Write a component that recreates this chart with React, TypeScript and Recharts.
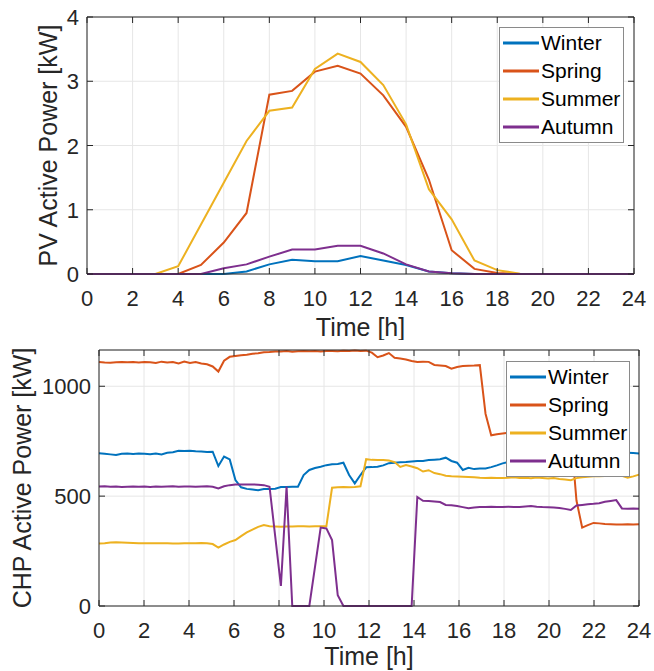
import React from 'react';
import { LineChart, Line, XAxis, YAxis, CartesianGrid, Legend, ReferenceLine } from 'recharts';

// PV profiles, hourly
const hours = [0, 1, 2, 3, 4, 5, 6, 7, 8, 9, 10, 11, 12, 13, 14, 15, 16, 17, 18, 19, 20, 21, 22, 23, 24];
const pvWinter = [0, 0, 0, 0, 0, 0, 0, 0.04, 0.15, 0.22, 0.2, 0.2, 0.28, 0.21, 0.14, 0.04, 0.01, 0, 0, 0, 0, 0, 0, 0, 0];
const pvSpring = [0, 0, 0, 0, 0, 0.14, 0.49, 0.95, 2.79, 2.85, 3.15, 3.24, 3.12, 2.78, 2.29, 1.47, 0.37, 0.08, 0.015, 0, 0, 0, 0, 0, 0];
const pvSummer = [0, 0, 0, 0, 0.12, 0.77, 1.42, 2.07, 2.54, 2.59, 3.19, 3.43, 3.3, 2.94, 2.33, 1.32, 0.85, 0.21, 0.06, 0.005, 0, 0, 0, 0, 0];
const pvAutumn = [0, 0, 0, 0, 0, 0, 0.09, 0.15, 0.27, 0.38, 0.38, 0.44, 0.44, 0.32, 0.15, 0.04, 0.01, 0, 0, 0, 0, 0, 0, 0, 0];

// CHP profiles, 96 samples spread over 0..24 h
const chpWinter = [
  695, 693, 690, 687, 693, 694, 692, 694, 693, 691,
  694, 690, 697, 700, 706, 705, 707, 704, 703, 701,
  702, 637, 680, 667, 573, 540, 533, 530, 527, 532,
  533, 534, 541, 542, 543, 543, 596, 619, 628, 634,
  641, 645, 646, 652, 596, 558, 596, 631, 632, 634,
  640, 650, 652, 654, 655, 658, 660, 660, 664, 666,
  668, 675, 660, 652, 619, 629, 623, 626, 626, 632,
  640, 649, 655, 660, 662, 665, 668, 670, 672, 675,
  677, 680, 682, 684, 686, 688, 690, 692, 693, 694,
  695, 696, 697, 697, 696, 694,
];
const chpSpring = [
  1110, 1108, 1107, 1109, 1110, 1109, 1110, 1108, 1110, 1109,
  1106, 1112, 1108, 1110, 1104, 1112, 1106, 1110, 1104, 1100,
  1090, 1067, 1116, 1134, 1138, 1141, 1143, 1148, 1150, 1155,
  1156, 1158, 1158, 1160, 1157, 1159, 1161, 1159, 1160, 1158,
  1160, 1161, 1159, 1162, 1160, 1163, 1161, 1162, 1153, 1132,
  1140, 1151, 1130, 1126, 1122, 1115, 1110, 1112, 1111, 1097,
  1095, 1092, 1080, 1088, 1092, 1093, 1094, 1096, 875, 777,
  782, 785, 788, 790, 792, 790, 793, 791, 792, 790,
  791, 793, 792, 790, 480, 357, 368, 378, 376, 373,
  372, 371, 371, 372, 371, 372,
];
const chpSummer = [
  284, 286, 289, 290, 289, 288, 287, 286, 286, 285,
  286, 285, 285, 284, 284, 285, 285, 286, 287, 286,
  282, 266, 280, 292, 300, 318, 335, 348, 360, 368,
  363, 362, 361, 362, 362, 363, 363, 362, 363, 363,
  363, 538, 540, 541, 540, 542, 545, 668, 665, 664,
  664, 662, 655, 633, 641, 635, 627, 612, 618, 605,
  600, 593, 590, 589, 588, 587, 586, 584, 583, 584,
  582, 583, 584, 586, 582, 584, 581, 585, 583, 580,
  582, 578, 576, 572, 582, 586, 588, 591, 590, 592,
  593, 596, 592, 584, 590, 598,
];
const chpAutumn = [
  544, 545, 543, 544, 542, 543, 544, 543, 544, 542,
  544, 543, 544, 545, 543, 544, 544, 543, 544, 545,
  543, 535, 545, 550, 553, 553, 553, 553, 552, 550,
  543, 317, 91, 543, 0, 0, 0, 0, 178, 357,
  353, 300, 49, 0, 0, 0, 0, 0, 0, 0,
  0, 0, 0, 0, 0, 0, 496, 479, 478, 476,
  473, 460, 458, 455, 450, 445, 448, 450, 451, 452,
  450, 451, 452, 450, 451, 453, 455, 452, 450, 449,
  448, 446, 442, 437, 457, 460, 463, 465, 468, 474,
  478, 482, 444, 443, 444, 443,
];

const seasons = ['Winter', 'Spring', 'Summer', 'Autumn'];
const colors = ['#0072BD', '#D95319', '#EDB120', '#7E2F8E'];
const timeTicks = [0, 2, 4, 6, 8, 10, 12, 14, 16, 18, 20, 22, 24];
const pvTicks = [0, 1, 2, 3, 4];
const chpTicks = [0, 500, 1000];
const CHP_MAX = 1165;

const pvData = hours.map((h, i) => ({
  t: h,
  Winter: pvWinter[i],
  Spring: pvSpring[i],
  Summer: pvSummer[i],
  Autumn: pvAutumn[i],
}));

const chpData = chpWinter.map((_, i) => ({
  t: (i * 24) / (chpWinter.length - 1),
  Winter: chpWinter[i],
  Spring: chpSpring[i],
  Summer: chpSummer[i],
  Autumn: chpAutumn[i],
}));

const AX = '#262626';
const FONT = '"Liberation Sans", Arial, Helvetica, sans-serif';

// matlab style ticks: pointing inward, on both sides of the box
const XTick = (props: any) => {
  const { x, y, payload, plotTop } = props;
  return (
    <g>
      <line x1={x} x2={x} y1={y} y2={y - 6} stroke={AX} />
      <line x1={x} x2={x} y1={plotTop} y2={plotTop + 6} stroke={AX} />
      <text x={x} y={y + 32} textAnchor="middle" fill={AX} fontSize={22} fontFamily={FONT}>
        {payload.value}
      </text>
    </g>
  );
};

const YTick = (props: any) => {
  const { x, y, payload, plotRight } = props;
  return (
    <g>
      <line x1={x} x2={x + 6} y1={y} y2={y} stroke={AX} />
      <line x1={plotRight} x2={plotRight - 6} y1={y} y2={y} stroke={AX} />
      <text x={x - 8} y={y + 8} textAnchor="end" fill={AX} fontSize={22} fontFamily={FONT}>
        {payload.value}
      </text>
    </g>
  );
};

const XTitle = (props: any) => (
  <text x={props.cx} y={props.baseY} textAnchor="middle" fill={AX} fontSize={25} fontFamily={FONT}>
    {props.caption}
  </text>
);

const YTitle = (props: any) => (
  <text
    x={props.baseX}
    y={props.cy}
    transform={`rotate(-90 ${props.baseX} ${props.cy})`}
    textAnchor="middle"
    fill={AX}
    fontSize={25}
    fontFamily={FONT}
  >
    {props.caption}
  </text>
);

const LegendBox = (props: any) => {
  // keep the plotting order, not alphabetical
  const items = [...(props.payload || [])].sort(
    (a: any, b: any) => seasons.indexOf(a.value) - seasons.indexOf(b.value)
  );
  return (
    <div style={{ border: '1px solid #8a8a8a', background: '#fff', padding: '1px 0 1px 3px', fontFamily: FONT }}>
      {items.map((p: any) => (
        <div key={p.value} style={{ display: 'flex', alignItems: 'center', height: 28 }}>
          <svg width={36} height={4} style={{ display: 'block' }}>
            <line x1={0} x2={36} y1={2} y2={2} stroke={p.color} strokeWidth={3} />
          </svg>
          <span style={{ marginLeft: 2, fontSize: 21, color: '#000', lineHeight: '28px' }}>{p.value}</span>
        </div>
      ))}
    </div>
  );
};

const App = () => {
  return (
    <div style={{ position: 'absolute', left: 0, top: 0, width: 654, height: 671, background: '#fff' }}>
      <div style={{ position: 'absolute', left: 0, top: 0 }}>
        <LineChart width={654} height={340} data={pvData} margin={{ top: 17, right: 20, left: 27, bottom: 16 }}>
          <CartesianGrid stroke="#e6e6e6" />
          <XAxis
            dataKey="t"
            type="number"
            domain={[0, 24]}
            ticks={timeTicks}
            interval={0}
            height={50}
            tickSize={0}
            tickMargin={0}
            tickLine={false}
            axisLine={{ stroke: AX }}
            tick={<XTick plotTop={17} />}
            label={<XTitle caption="Time [h]" cx={360.5} baseY={336} />}
          />
          <YAxis
            type="number"
            domain={[0, 4]}
            ticks={pvTicks}
            interval={0}
            width={60}
            tickSize={0}
            tickMargin={0}
            tickLine={false}
            axisLine={{ stroke: AX }}
            tick={<YTick plotRight={634} />}
            label={<YTitle caption="PV Active Power [kW]" baseX={57} cy={145.5} />}
          />
          {seasons.map((s, i) => (
            <Line
              key={s}
              type="linear"
              dataKey={s}
              name={s}
              stroke={colors[i]}
              strokeWidth={2}
              dot={false}
              isAnimationActive={false}
            />
          ))}
          <ReferenceLine y={4} stroke={AX} />
          <ReferenceLine x={24} stroke={AX} />
          <Legend
            layout="vertical"
            align="center"
            verticalAlign="middle"
            content={<LegendBox />}
            wrapperStyle={{ left: 499, top: 27, width: 125 }}
          />
        </LineChart>
      </div>
      <div style={{ position: 'absolute', left: 0, top: 335 }}>
        <LineChart width={654} height={336} data={chpData} margin={{ top: 15, right: 15, left: 39, bottom: 15 }}>
          <CartesianGrid stroke="#e6e6e6" />
          <XAxis
            dataKey="t"
            type="number"
            domain={[0, 24]}
            ticks={timeTicks}
            interval={0}
            height={50}
            tickSize={0}
            tickMargin={0}
            tickLine={false}
            axisLine={{ stroke: AX }}
            tick={<XTick plotTop={15} />}
            label={<XTitle caption="Time [h]" cx={369} baseY={330} />}
          />
          <YAxis
            type="number"
            domain={[0, CHP_MAX]}
            ticks={chpTicks}
            interval={0}
            width={60}
            tickSize={0}
            tickMargin={0}
            tickLine={false}
            axisLine={{ stroke: AX }}
            tick={<YTick plotRight={639} />}
            label={<YTitle caption="CHP Active Power [kW]" baseX={31} cy={143} />}
          />
          {seasons.map((s, i) => (
            <Line
              key={s}
              type="linear"
              dataKey={s}
              name={s}
              stroke={colors[i]}
              strokeWidth={2}
              dot={false}
              isAnimationActive={false}
            />
          ))}
          <ReferenceLine y={CHP_MAX} stroke={AX} />
          <ReferenceLine x={24} stroke={AX} />
          <Legend
            layout="vertical"
            align="center"
            verticalAlign="middle"
            content={<LegendBox />}
            wrapperStyle={{ left: 506, top: 26, width: 124 }}
          />
        </LineChart>
      </div>
    </div>
  );
};

export default App;
